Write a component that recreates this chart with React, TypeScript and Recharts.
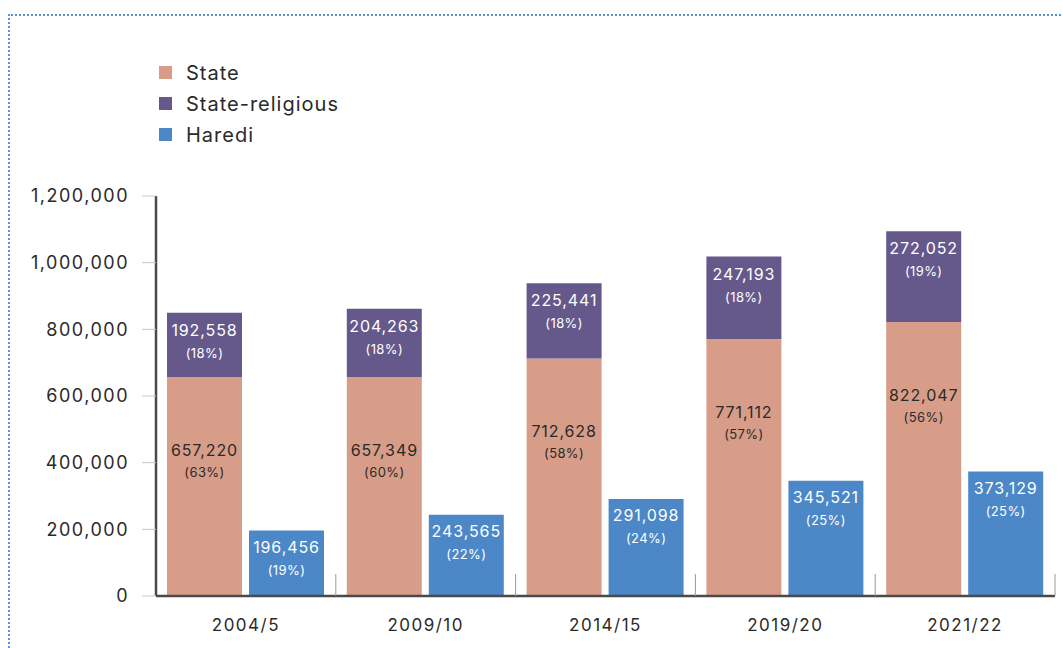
import React from 'react';
import { BarChart, Bar, XAxis, YAxis, LabelList } from 'recharts';

const categories = ['2004/5', '2009/10', '2014/15', '2019/20', '2021/22'];
const stateValues = [657220, 657349, 712628, 771112, 822047];
const stateReligiousValues = [192558, 204263, 225441, 247193, 272052];
const harediValues = [196456, 243565, 291098, 345521, 373129];
const statePct = [63, 60, 58, 57, 56];
const stateReligiousPct = [18, 18, 18, 18, 19];
const harediPct = [19, 22, 24, 25, 25];
const yTicks = [0, 200000, 400000, 600000, 800000, 1000000, 1200000];
const seriesNames = ['State', 'State-religious', 'Haredi'];

const COLORS = { state: '#D89D88', sr: '#64598A', haredi: '#4C87C7' };
const FONT = 'Inter, "Open Sans", sans-serif';
const W = 1063;
const H = 648;
const MARGIN = { top: 196, right: 8, left: 0, bottom: 12 };
const Y_WIDTH = 156;
const BAND = (W - MARGIN.left - MARGIN.right - Y_WIDTH) / categories.length;

const data = categories.map((c, i) => ({
  name: c,
  state: stateValues[i],
  sr: stateReligiousValues[i],
  haredi: harediValues[i],
}));

const fmt = (v: number) => v.toLocaleString('en-US');

const makeLabel = (pcts: number[], color: string, off1: number, off2: number) => (props: any) => {
  const { x, y, width, value, index } = props;
  const cx = Number(x) + Number(width) / 2;
  const top = Number(y);
  return (
    <g>
      <text x={cx} y={top + off1} textAnchor="middle" dominantBaseline="central" fill={color} fontSize={16} letterSpacing={0.9} fontFamily={FONT}>
        {fmt(Number(value))}
      </text>
      <text x={cx} y={top + off2} textAnchor="middle" dominantBaseline="central" fill={color} fontSize={13} letterSpacing={0.4} fontFamily={FONT}>
        {`(${pcts[index]}%)`}
      </text>
    </g>
  );
};

const XTick = (props: any) => {
  const { x, y, payload } = props;
  return (
    <g>
      <line x1={x + BAND / 2} x2={x + BAND / 2} y1={y - 22} y2={y} stroke="#999" strokeWidth={1} />
      <text x={x} y={y + 35} textAnchor="middle" fill="#2a2a2a" fontSize={17} letterSpacing={1.5} fontFamily={FONT}>
        {payload.value}
      </text>
    </g>
  );
};

const legendColors = [COLORS.state, COLORS.sr, COLORS.haredi];

export default function App() {
  return (
    <div style={{ position: 'absolute', left: 0, top: 0, width: W, height: H, background: '#fff', overflow: 'hidden' }}>
      <div
        style={{
          position: 'absolute',
          left: 8,
          top: 14,
          width: W,
          height: H,
          borderTop: '2px dotted #5b8fe0',
          borderLeft: '2px dotted #5b8fe0',
        }}
      />
      <div style={{ position: 'absolute', left: 159, top: 57, fontFamily: FONT, fontSize: 20, letterSpacing: 1, color: '#2a2a2a' }}>
        {seriesNames.map((n, i) => (
          <div key={n} style={{ display: 'flex', alignItems: 'center', height: 31 }}>
            <span style={{ display: 'inline-block', width: 13, height: 13, background: legendColors[i], marginRight: 14 }} />
            <span>{n}</span>
          </div>
        ))}
      </div>
      <BarChart width={W} height={H} data={data} margin={MARGIN} barSize={75} barGap={7}>
        <XAxis
          dataKey="name"
          tick={<XTick />}
          tickLine={false}
          tickSize={0}
          tickMargin={0}
          height={40}
          axisLine={{ stroke: '#4a4a4a', strokeWidth: 2.5 }}
          interval={0}
        />
        <YAxis
          width={Y_WIDTH}
          domain={[0, 1200000]}
          ticks={yTicks}
          interval={0}
          tickFormatter={fmt}
          tickSize={14}
          tickMargin={13}
          tickLine={{ stroke: '#c8c8c8' }}
          axisLine={{ stroke: '#4a4a4a', strokeWidth: 2.5 }}
          tick={{ fill: '#2a2a2a', fontSize: 18, fontFamily: FONT, letterSpacing: 1.5 }}
        />
        <Bar dataKey="state" stackId="a" fill={COLORS.state} isAnimationActive={false}>
          <LabelList dataKey="state" content={makeLabel(statePct, '#2a2a2a', 73, 95)} />
        </Bar>
        <Bar dataKey="sr" stackId="a" fill={COLORS.sr} isAnimationActive={false}>
          <LabelList dataKey="sr" content={makeLabel(stateReligiousPct, '#ffffff', 17, 40)} />
        </Bar>
        <Bar dataKey="haredi" fill={COLORS.haredi} isAnimationActive={false}>
          <LabelList dataKey="haredi" content={makeLabel(harediPct, '#ffffff', 16, 39)} />
        </Bar>
      </BarChart>
    </div>
  );
}
